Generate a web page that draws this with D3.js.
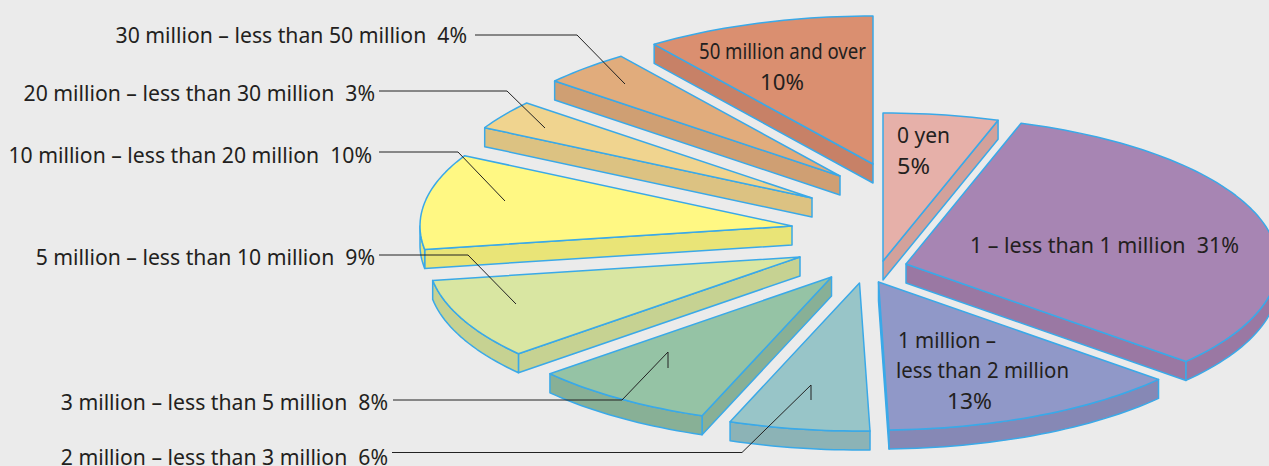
<!DOCTYPE html>
<html><head><meta charset="utf-8">
<style>html,body{margin:0;padding:0;background:#ebebeb;overflow:hidden}
text{font-family:"Noto Sans",sans-serif;font-size:21.2px;fill:#231f20;white-space:pre}</style>
<script src="https://cdn.jsdelivr.net/npm/d3@7/dist/d3.min.js"></script></head><body>
<script>
const categories=["0 yen","1 – less than 1 million","1 million – less than 2 million","2 million – less than 3 million","3 million – less than 5 million","5 million – less than 10 million","10 million – less than 20 million","20 million – less than 30 million","30 million – less than 50 million","50 million and over"];
const shares=[5,31.4,13.1,6.1,8.0,8.8,10.4,3.2,3.9,10];
const topColors=["#e6b0a9","#a785b3","#9098c8","#98c5c8","#95c3a5","#d9e6a2","#fff883","#f0d48f","#e1ac7c","#da8f70"];
const wallColors=["#d2a19b","#9a78a3","#8688b5","#8cb3b6","#88b096","#c6d292","#e9e477","#dcc282","#cf9f73","#c78167"];
const apexX=[883,906,878.5,859.5,831.5,800,792,812,840,873];
const apexY=[261,264,282,283,277,257,226,198,176,164];
const outsideLabels=[
 {i:8,x:467,y:43,pts:[[475,35],[577,35],[625,84]]},
 {i:7,x:375,y:101,pts:[[379,91],[507,91],[545,128]]},
 {i:6,x:372,y:163,pts:[[379,152],[458,152],[505,201]]},
 {i:5,x:375,y:265,pts:[[379,255],[468,255],[516,304]]},
 {i:4,x:388,y:410,pts:[[393,400],[622,400],[668,352],[668,368]]},
 {i:3,x:388,y:464.5,pts:[[392,452.5],[742,452.5],[811,385],[811,400]]}];
const insideLabels=[
 {t:"50 million and over",x:699,y:59,len:167},{t:"10%",x:760,y:90,len:44},
 {t:"0 yen",x:897,y:143,len:53},{t:"5%",x:897,y:174,len:33},
 {t:"1 – less than 1 million  31%",x:970,y:253,len:269},
 {t:"1 million –",x:898,y:348,len:98},{t:"less than 2 million",x:896,y:378,len:173},{t:"13%",x:947,y:409,len:45}];
const W=1269,H=466,RX=372,RY=148,DEPTH=19,STROKE="#3aa9e8";
const svg=d3.select("body").append("svg").attr("width",W).attr("height",H).style("display","block");
svg.append("rect").attr("width",W).attr("height",H).attr("fill","#ebebeb");
const arcs=d3.pie().sort(null).value(d=>d)(shares);
const line=d3.line();
arcs.forEach((a,i)=>{
  const sx=d3.scaleLinear().domain([-1,1]).range([apexX[i]-RX,apexX[i]+RX]);
  const sy=d3.scaleLinear().domain([-1,1]).range([apexY[i]-RY,apexY[i]+RY]);
  const pt=t=>[sx(Math.sin(t)),sy(-Math.cos(t))];
  const sample=(t0,t1)=>{const n=Math.max(8,Math.ceil((t1-t0)*40));return d3.range(n+1).map(k=>pt(t0+(t1-t0)*k/n));};
  const rim=sample(a.startAngle,a.endAngle);
  const apex=[sx(0),sy(0)];
  const down=p=>[p[0],p[1]+DEPTH];
  const g=svg.append("g").attr("stroke",STROKE).attr("stroke-width",1.5).attr("stroke-linejoin","round");
  const walls=[];
  if(Math.sin(a.startAngle)<-1e-6){const p=pt(a.startAngle);walls.push([apex,p,down(p),down(apex)]);}
  if(Math.sin(a.endAngle)>1e-6){const p=pt(a.endAngle);walls.push([apex,p,down(p),down(apex)]);}
  const lo=Math.max(a.startAngle,Math.PI/2),hi=Math.min(a.endAngle,3*Math.PI/2);
  if(hi>lo){const r=sample(lo,hi);walls.push(r.concat(r.map(down).reverse()));}
  g.selectAll("path.wall").data(walls).join("path").attr("class","wall").attr("fill",wallColors[i]).attr("d",d=>line(d)+"Z");
  g.append("path").attr("fill",topColors[i]).attr("d",line([apex].concat(rim))+"Z");
});
const pct=d3.format(".0f");
svg.selectAll("path.leader").data(outsideLabels).join("path").attr("class","leader").attr("fill","none").attr("stroke","#222").attr("stroke-width",1).attr("d",d=>line(d.pts));
svg.selectAll("text.out").data(outsideLabels).join("text").attr("class","out").attr("x",d=>d.x).attr("y",d=>d.y).attr("text-anchor","end").text(d=>categories[d.i]+"  "+pct(shares[d.i])+"%");
svg.selectAll("text.in").data(insideLabels).join("text").attr("class","in").attr("x",d=>d.x).attr("y",d=>d.y).attr("textLength",d=>d.len).attr("lengthAdjust","spacingAndGlyphs").text(d=>d.t);
</script></body></html>
